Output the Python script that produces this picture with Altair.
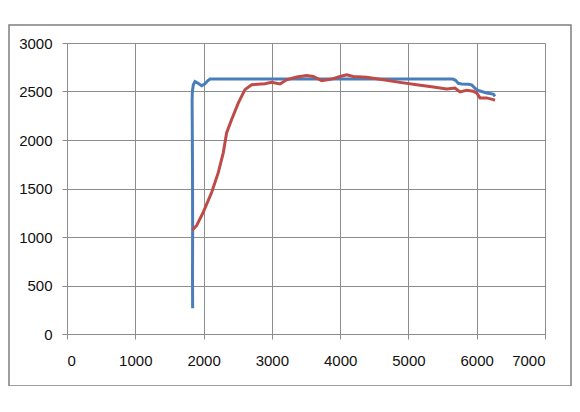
import altair as alt
import pandas as pd

# Series 1 (blue)
blue_x = [1840, 1838, 1840, 1838, 1834, 1832, 1836, 1850, 1874, 1920, 1972, 2020, 2060, 2094,
          3000, 4000, 5000, 5650, 5690, 5730, 5779, 5880, 5926, 5980, 6023, 6072, 6145, 6243, 6267]
blue_y = [265, 600, 1100, 1700, 2200, 2400, 2500, 2570, 2602, 2585, 2560, 2580, 2610, 2628,
          2628, 2628, 2628, 2628, 2615, 2585, 2578, 2575, 2568, 2530, 2510, 2500, 2485, 2474, 2450]

# Series 2 (red)
red_x = [1835, 1899, 1996, 2119, 2216, 2289, 2338, 2411, 2509, 2606, 2704, 2899, 2997, 3119,
         3216, 3363, 3510, 3608, 3730, 3876, 3998, 4096, 4193, 4388, 4632, 4876, 5121, 5365,
         5560, 5681, 5755, 5853, 5950, 5999, 6048, 6145, 6243, 6267]
red_y = [1070, 1119, 1256, 1461, 1666, 1870, 2075, 2211, 2382, 2519, 2570, 2580, 2594, 2577,
         2621, 2649, 2665, 2655, 2611, 2628, 2655, 2672, 2655, 2648, 2621, 2594, 2570, 2546,
         2526, 2536, 2495, 2512, 2502, 2485, 2434, 2434, 2416, 2410]

x_ticks = [0, 1000, 2000, 3000, 4000, 5000, 6000, 7000]
y_ticks = [0, 500, 1000, 1500, 2000, 2500, 3000]

rows = []
for i, (x, y) in enumerate(zip(blue_x, blue_y)):
    rows.append({"series": "A", "x": x, "y": y, "i": i})
for i, (x, y) in enumerate(zip(red_x, red_y)):
    rows.append({"series": "B", "x": x, "y": y, "i": i})
df = pd.DataFrame(rows)

grid_col = "#8c8c8c"

lines = alt.Chart(df).mark_line(strokeWidth=3, clip=False).encode(
    x=alt.X("x:Q", scale=alt.Scale(domain=[0, 7000], nice=False),
            axis=alt.Axis(values=x_ticks, title=None, grid=True, tickSize=5,
                          labelPadding=14, format="d")),
    y=alt.Y("y:Q", scale=alt.Scale(domain=[0, 3000], nice=False),
            axis=alt.Axis(values=y_ticks, title=None, grid=True, tickSize=5,
                          labelPadding=10, format="d")),
    color=alt.Color("series:N", scale=alt.Scale(domain=["A", "B"], range=["#4a7ebb", "#be4b48"]),
                    legend=None),
    order="i:Q",
)

border = alt.Chart(pd.DataFrame({"k": [0]})).mark_rect(
    filled=False, stroke="#7f7f7f", strokeWidth=1.5, clip=False
).encode(x=alt.value(-58), x2=alt.value(504), y=alt.value(-18), y2=alt.value(343))

chart = alt.layer(border, lines).properties(
    width=478, height=291,
    autosize=alt.AutoSizeParams(type="none"),
    padding={"left": 59, "top": 35, "right": 27, "bottom": 52},
    background="white",
).configure_view(strokeWidth=0).configure_axis(
    gridColor=grid_col, gridWidth=1, domainColor=grid_col, tickColor=grid_col,
    labelFont="Liberation Sans", labelFontSize=15, labelColor="#111111",
    domainWidth=1, tickWidth=1,
)

chart.save("out.html", embed_options={"renderer": "svg", "actions": False})
